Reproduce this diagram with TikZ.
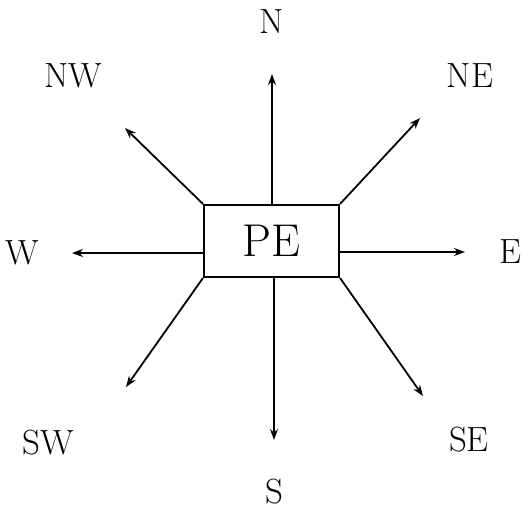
\documentclass[tikz,border=0pt]{standalone}
\usetikzlibrary{arrows.meta}
\begin{document}
\begin{tikzpicture}[x=1pt,y=-1pt,
  lbl/.style={inner sep=0pt,font=\fontsize{35}{40}\selectfont},
  arr/.style={line width=1.8pt,-{Stealth[length=11pt,width=8pt]}}]
\useasboundingbox (0,0) rectangle (528,510);
\node[draw,line width=2.2pt,minimum width=135pt,minimum height=72pt,inner sep=0pt,
  font=\fontsize{46}{50}\selectfont] (pe) at (271.5,241) {PE};
\coordinate (nTip) at (272,74);
\coordinate (neTip) at (420,118);
\coordinate (eTip) at (465,252);
\coordinate (seTip) at (423,396);
\coordinate (sTip) at (274,440);
\coordinate (swTip) at (126,387);
\coordinate (wTip) at (72,253);
\coordinate (nwTip) at (125,128);
\draw[arr] (nTip |- pe.north) -- (nTip);
\draw[arr] (pe.north east) -- (neTip);
\draw[arr] (eTip -| pe.east) -- (eTip);
\draw[arr] (pe.south east) -- (seTip);
\draw[arr] (sTip |- pe.south) -- (sTip);
\draw[arr] (pe.south west) -- (swTip);
\draw[arr] (wTip -| pe.west) -- (wTip);
\draw[arr] (pe.north west) -- (nwTip);
\node[lbl] (n) at (272,22) {N};
\node[lbl] (ne) at (470,76) {NE};
\node[lbl] (e) at (510,252) {E};
\node[lbl] (se) at (469,440) {SE};
\node[lbl] (s) at (274,492) {S};
\node[lbl] (sw) at (48,443) {SW};
\node[lbl] (w) at (22,253) {W};
\node[lbl] (nw) at (73,76) {NW};
\end{tikzpicture}
\end{document}
